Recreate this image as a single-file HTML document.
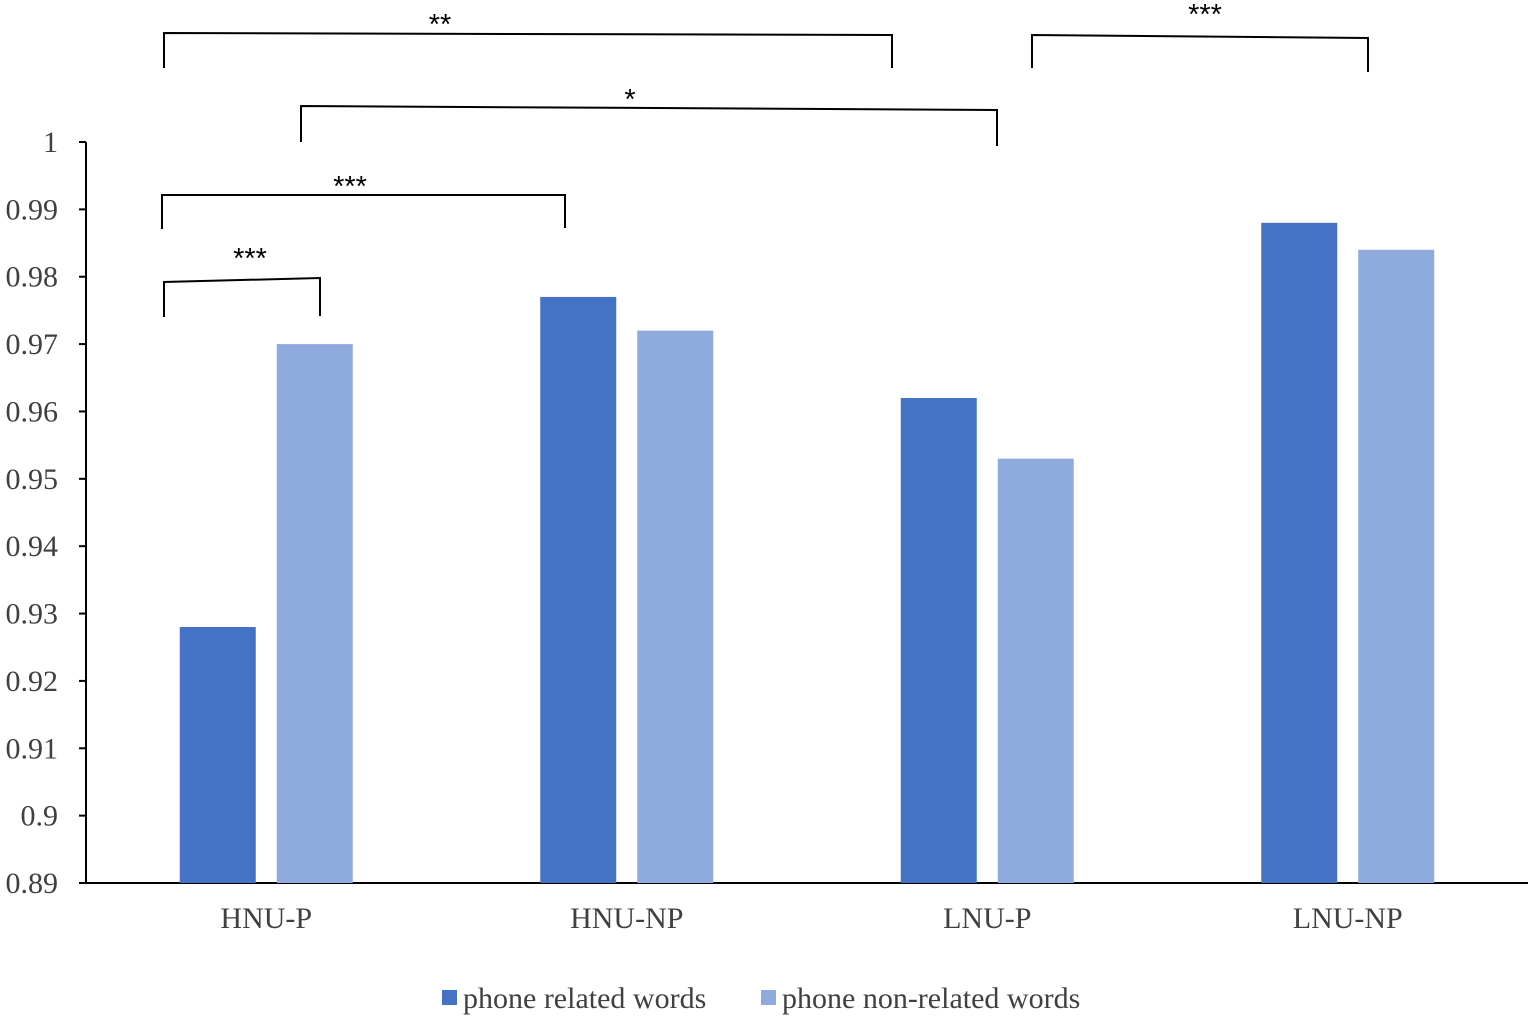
<!DOCTYPE html>
<html><head><meta charset="utf-8"><style>
html,body{margin:0;padding:0;background:#fff;}
svg{display:block;}
</style></head><body>
<svg id="chart" width="1535" height="1020" xmlns="http://www.w3.org/2000/svg" font-family="'Liberation Serif', serif"></svg>
<script>
const categories = ["HNU-P","HNU-NP","LNU-P","LNU-NP"];
const relatedValues = [0.928,0.977,0.962,0.988];
const nonRelatedValues = [0.970,0.972,0.953,0.984];
const yTicks = [0.89,0.9,0.91,0.92,0.93,0.94,0.95,0.96,0.97,0.98,0.99,1];
const yTickLabels = ["0.89","0.9","0.91","0.92","0.93","0.94","0.95","0.96","0.97","0.98","0.99","1"];
const seriesNames = ["phone related words","phone non-related words"];

const NS="http://www.w3.org/2000/svg";
const svg=document.getElementById('chart');
const x0=86,x1=1528,yTop=142,yBot=883,yMin=0.89,yMax=1;
function yScale(v){return yBot-(v-yMin)/(yMax-yMin)*(yBot-yTop);}
const groupW=(x1-x0)/categories.length;
function xCenter(i){return x0+groupW*(i+0.5);}
function mk(tag,attrs){const e=document.createElementNS(NS,tag);for(const k in attrs)e.setAttribute(k,attrs[k]);svg.appendChild(e);return e;}

let ax=mk('line',{x1:x0,y1:yTop,x2:x0,y2:yBot,stroke:'#000','stroke-width':2});


ax=mk('line',{x1:x0,y1:yBot,x2:x1,y2:yBot,stroke:'#000','stroke-width':2});



yTicks.forEach((t,i)=>{
  const y=yScale(t);
  const tk=mk('line',{x1:x0-7,y1:y,x2:x0,y2:y,stroke:'#000','stroke-width':2});
  
  
  const tx=mk('text',{x:58,y:y+10,'text-anchor':'end','font-size':30,fill:'#404040'});
  tx.textContent=yTickLabels[i];
  
  
});

const barW=76,gap=21;
categories.forEach((c,i)=>{
  const cx=xCenter(i);
  const yr=yScale(relatedValues[i]);
  const b1=mk('rect',{x:cx-gap/2-barW,y:yr,width:barW,height:yBot-yr,fill:'#4472c4'});
  
  
  const yn=yScale(nonRelatedValues[i]);
  const b2=mk('rect',{x:cx+gap/2,y:yn,width:barW,height:yBot-yn,fill:'#8faadc'});
  
  
  const lb=mk('text',{x:cx,y:928,'text-anchor':'middle','font-size':30,fill:'#404040'});
  lb.textContent=c;
  
  
});

const brackets=[
  {xa:164,ya1:68,ya2:33,xb:892,yb2:35,yb1:68,tx:440,ty:34,s:'**'},
  {xa:1032,ya1:68,ya2:35,xb:1368,yb2:38,yb1:72,tx:1205,ty:24,s:'***'},
  {xa:301,ya1:142,ya2:106,xb:997,yb2:110,yb1:146,tx:630,ty:109,s:'*'},
  {xa:162,ya1:229,ya2:195,xb:565,yb2:195,yb1:228,tx:350,ty:196,s:'***'},
  {xa:164,ya1:317,ya2:282,xb:320,yb2:278,yb1:316,tx:250,ty:268,s:'***'}
];
brackets.forEach(b=>{
  const p=mk('polyline',{points:`${b.xa},${b.ya1} ${b.xa},${b.ya2} ${b.xb},${b.yb2} ${b.xb},${b.yb1}`,fill:'none',stroke:'#000','stroke-width':2});
  
  
  const t=mk('text',{x:b.tx,y:b.ty,'text-anchor':'middle','font-size':29,'font-family':"'Liberation Sans', sans-serif",fill:'#000'});
  t.textContent=b.s;
  
  
});

const legCols=['#4472c4','#8faadc'],legX=[442,761];
seriesNames.forEach((n,i)=>{
  const r=mk('rect',{x:legX[i],y:990,width:15,height:15,fill:legCols[i]});
  
  
  const t=mk('text',{x:legX[i]+21,y:1008,'font-size':30,fill:'#404040'});
  t.textContent=n;
  
  
});
</script>
</body></html>
